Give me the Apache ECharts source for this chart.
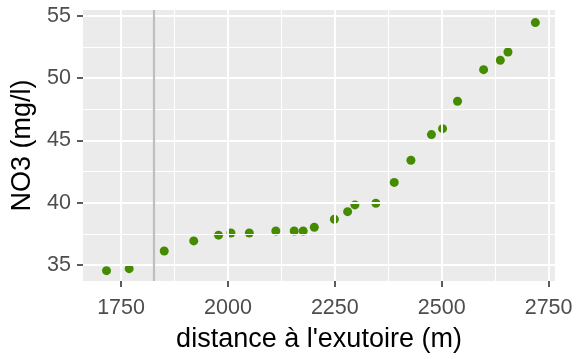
<!DOCTYPE html>
<html>
<head>
<meta charset="utf-8">
<script src="https://cdn.jsdelivr.net/npm/echarts@6/dist/echarts.min.js"></script>
<style>
  html, body { margin: 0; padding: 0; background: #ffffff; }
  #chart { width: 576px; height: 359px; }
</style>
</head>
<body>
<div id="chart"></div>
<script>
// Distance to the outlet (m) and nitrate concentration (mg/l)
const distance = [1716, 1769, 1851, 1920, 1978, 2007, 2050, 2112, 2155, 2176, 2202, 2249, 2280, 2297, 2346, 2389, 2428, 2476, 2502, 2537, 2598, 2637, 2655, 2719];
const no3 = [34.54, 34.70, 36.12, 36.93, 37.39, 37.57, 37.57, 37.73, 37.73, 37.73, 38.03, 38.67, 39.28, 39.82, 39.96, 41.63, 43.41, 45.47, 45.95, 48.15, 50.69, 51.44, 52.11, 54.47];

// Reference distance marked with a vertical line
const refDistance = [1827];

// Axis ticks (major) and in-between grid lines (minor)
const xTicks = [1750, 2000, 2250, 2500, 2750];
const xMinor = [1875, 2125, 2375, 2625];
const yTicks = [35, 40, 45, 50, 55];
const yMinor = [37.5, 42.5, 47.5, 52.5];

const xRange = [1661, 2765];
const yRange = [33.71, 55.48];

const FONT = 'Liberation Sans, Arial, sans-serif';

const chart = echarts.init(document.getElementById('chart'), null, { renderer: 'canvas' });

function gridLines(values, key, width) {
  return values.map(v => ({ [key]: v, lineStyle: { color: '#ffffff', width: width, type: 'solid' } }));
}

const option = {
  backgroundColor: '#ffffff',
  animation: false,
  grid: {
    left: 83, right: 21, top: 10, bottom: 78,
    show: true, backgroundColor: '#EBEBEB', borderWidth: 0
  },
  xAxis: {
    type: 'value',
    min: xRange[0], max: xRange[1],
    name: "distance à l'exutoire (m)",
    nameLocation: 'middle',
    nameGap: 45,
    nameTextStyle: { color: '#000000', fontSize: 27, fontFamily: FONT },
    axisLine: { show: false },
    axisTick: { show: true, customValues: xTicks, length: 6, lineStyle: { color: '#333333', width: 1.6 } },
    axisLabel: {
      customValues: xTicks, margin: 16, color: '#4D4D4D', fontSize: 21.5, fontFamily: FONT,
      formatter: v => String(v)
    },
    splitLine: { show: false }
  },
  yAxis: {
    type: 'value',
    min: yRange[0], max: yRange[1],
    name: 'NO3 (mg/l)',
    nameLocation: 'middle',
    nameGap: 44,
    nameRotate: 90,
    nameTextStyle: { color: '#000000', fontSize: 27, fontFamily: FONT },
    axisLine: { show: false },
    axisTick: { show: true, customValues: yTicks, length: 6, lineStyle: { color: '#333333', width: 1.6 } },
    axisLabel: {
      customValues: yTicks, margin: 12, color: '#4D4D4D', fontSize: 21.5, fontFamily: FONT,
      formatter: v => String(v)
    },
    splitLine: { show: false }
  },
  series: [
    {
      // panel grid lines
      type: 'line',
      data: [],
      z: 1,
      silent: true,
      markLine: {
        silent: true,
        symbol: 'none',
        label: { show: false },
        animation: false,
        data: [].concat(
          gridLines(xMinor, 'xAxis', 1),
          gridLines(yMinor, 'yAxis', 1),
          gridLines(xTicks, 'xAxis', 1.9),
          gridLines(yTicks, 'yAxis', 1.9)
        )
      }
    },
    {
      // reference vertical line
      type: 'line',
      data: [],
      z: 2,
      silent: true,
      markLine: {
        silent: true,
        symbol: 'none',
        label: { show: false },
        animation: false,
        data: refDistance.map(v => ({ xAxis: v, lineStyle: { color: '#BEBEBE', width: 2.2, type: 'solid' } }))
      }
    },
    {
      type: 'scatter',
      z: 3,
      symbol: 'circle',
      symbolSize: 9,
      itemStyle: { color: '#458B00', opacity: 1 },
      data: distance.map((d, i) => [d, no3[i]])
    }
  ]
};

chart.setOption(option);
</script>
</body>
</html>
